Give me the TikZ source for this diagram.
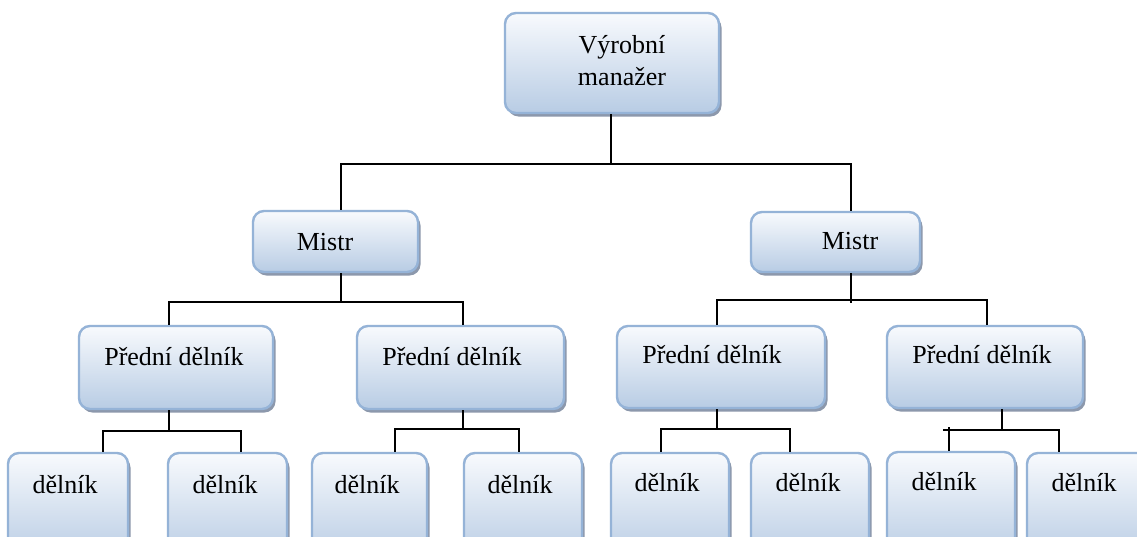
\documentclass[tikz,border=0pt]{standalone}
\usepackage{fontspec}
\setmainfont{Liberation Serif}
\usetikzlibrary{shadows}
\definecolor{boxedge}{RGB}{149,179,215}
\definecolor{boxtop}{RGB}{248,250,253}
\definecolor{boxbot}{RGB}{184,204,228}
\definecolor{shadowc}{RGB}{140,152,172}
\tikzset{
  box/.style={draw=boxedge, line width=2.4pt, rounded corners=11pt, inner sep=0pt,
    top color=boxtop, bottom color=boxbot,
    drop shadow={shadow xshift=2.5pt, shadow yshift=-3.5pt, fill=shadowc, opacity=1}},
  lbl/.style={inner sep=0pt, align=center, font=\fontsize{26}{32}\selectfont},
  conn/.style={draw=black, line width=2pt}
}
\newcommand\orgbox[5]{\node[box, minimum width={(#4-#2)*1pt}, minimum height={(#5-#3)*1pt}] (#1) at ({(#2+#4)/2},{(#3+#5)/2}) {};}
\begin{document}
\begin{tikzpicture}[x=1pt,y=-1pt]
\useasboundingbox (0,0) rectangle (1137,536);
\clip (0,0) rectangle (1137,536);
\fill[white] (0,0) rectangle (1137,536);
% boxes
\orgbox{top}{505}{13}{719}{113}
\orgbox{mL}{253}{211}{418}{272}
\orgbox{mR}{751}{212}{920}{272}
\orgbox{pL1}{79}{326}{273}{409}
\orgbox{pL2}{357}{326}{564}{409}
\orgbox{pR1}{617}{326}{825}{408}
\orgbox{pR2}{887}{326}{1083}{408}
\orgbox{d1}{8}{453}{128}{560}
\orgbox{d2}{168}{453}{287}{560}
\orgbox{d3}{312}{453}{427}{560}
\orgbox{d4}{464}{453}{582}{560}
\orgbox{d5}{611}{453}{729}{560}
\orgbox{d6}{751}{453}{869}{560}
\orgbox{d7}{887}{452}{1015}{560}
\orgbox{d8}{1027}{453}{1160}{560}
% labels
\node[lbl] (ttop) at (622,61) {Výrobní\\manažer};
\node[lbl] (tmL) at (325,242) {Mistr};
\node[lbl] (tmR) at (850,241) {Mistr};
\node[lbl] (tpL1) at (174,357) {Přední dělník};
\node[lbl] (tpL2) at (452,357) {Přední dělník};
\node[lbl] (tpR1) at (712,355) {Přední dělník};
\node[lbl] (tpR2) at (982,355) {Přední dělník};
\node[lbl] (td1) at (65,485) {dělník};
\node[lbl] (td2) at (225,485) {dělník};
\node[lbl] (td3) at (367,485) {dělník};
\node[lbl] (td4) at (520,485) {dělník};
\node[lbl] (td5) at (667,483) {dělník};
\node[lbl] (td6) at (808,483) {dělník};
\node[lbl] (td7) at (944,482) {dělník};
\node[lbl] (td8) at (1084,483) {dělník};
% junction coordinates
\coordinate (j0) at (611,164);
\coordinate (j0L) at (341,164);
\coordinate (j0R) at (851,164);
\coordinate (jL) at (341,302);
\coordinate (jLa) at (169,302);
\coordinate (jLb) at (463,302);
\coordinate (jR) at (851,300);
\coordinate (jRa) at (717,300);
\coordinate (jRb) at (987,300);
\coordinate (k1) at (169,431);
\coordinate (k1a) at (103,431);
\coordinate (k1b) at (241,431);
\coordinate (k2) at (463,429);
\coordinate (k2a) at (395,429);
\coordinate (k2b) at (519,429);
\coordinate (k3) at (717,429);
\coordinate (k3a) at (661,429);
\coordinate (k3b) at (790,429);
\coordinate (k4) at (1002,430);
\coordinate (k4a) at (943,430);
\coordinate (k4b) at (1059,430);
\coordinate (k4t) at (949,427);
% connectors
\draw[conn] (top.south -| j0) -- (j0);
\draw[conn] (j0L |- mL.north) -- (j0L) -- (j0R) -- (j0R |- mR.north);
\draw[conn] (jL |- mL.south) -- (jL);
\draw[conn] (jLa |- pL1.north) -- (jLa) -- (jLb) -- (jLb |- pL2.north);
\draw[conn] (jR |- mR.south) -- ([yshift=-3pt]jR);
\draw[conn] (jRa |- pR1.north) -- (jRa) -- (jRb) -- (jRb |- pR2.north);
\draw[conn] (k1 |- pL1.south) -- (k1);
\draw[conn] (k1a |- d1.north) -- (k1a) -- (k1b) -- (k1b |- d2.north);
\draw[conn] (k2 |- pL2.south) -- (k2);
\draw[conn] (k2a |- d3.north) -- (k2a) -- (k2b) -- (k2b |- d4.north);
\draw[conn] (k3 |- pR1.south) -- (k3);
\draw[conn] (k3a |- d5.north) -- (k3a) -- (k3b) -- (k3b |- d6.north);
\draw[conn] (k4 |- pR2.south) -- (k4);
\draw[conn] (k4a) -- (k4b) -- (k4b |- d8.north);
\draw[conn] (k4t) -- (k4t |- d7.north);
\end{tikzpicture}
\end{document}
